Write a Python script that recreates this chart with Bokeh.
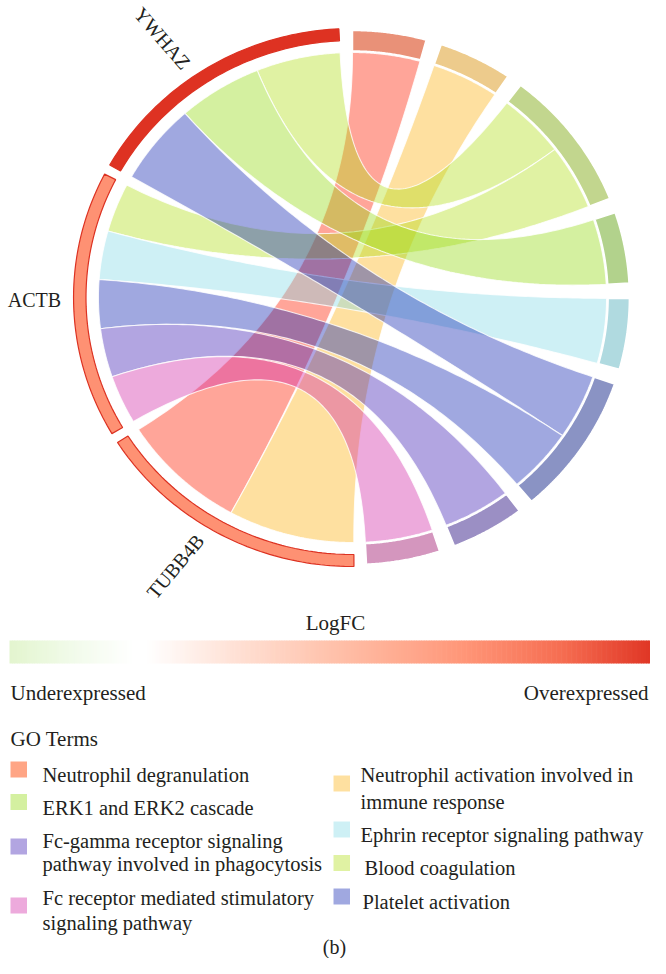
import numpy as np
from bokeh.plotting import figure
from bokeh.models import Range1d
from bokeh.embed import file_html
from bokeh.resources import INLINE
from bokeh.core.properties import value

# ---------------- data ----------------
genes = ["YWHAZ", "ACTB", "TUBB4B"]
gene_logfc = [2.0, 1.3, 1.3]
logfc_range = [-0.5, 2.0]

# GO terms in their order round the circle (clockwise from the top)
terms = [
    "Neutrophil degranulation",
    "Neutrophil activation involved in immune response",
    "Blood coagulation",
    "ERK1 and ERK2 cascade",
    "Ephrin receptor signaling pathway",
    "Platelet activation",
    "Fc-gamma receptor signaling pathway involved in phagocytosis",
    "Fc receptor mediated stimulatory signaling pathway",
]
# gene -> GO term memberships
ywhaz_terms = ["Blood coagulation", "ERK1 and ERK2 cascade", "Platelet activation"]
actb_terms = ["Blood coagulation", "Ephrin receptor signaling pathway", "Platelet activation",
              "Fc-gamma receptor signaling pathway involved in phagocytosis",
              "Fc receptor mediated stimulatory signaling pathway"]
tubb4b_terms = ["Neutrophil degranulation", "Neutrophil activation involved in immune response"]
gene_terms = [ywhaz_terms, actb_terms, tubb4b_terms]

# legend order and line breaks
legend_terms = [
    "Neutrophil degranulation", "ERK1 and ERK2 cascade",
    "Fc-gamma receptor signaling pathway involved in phagocytosis",
    "Fc receptor mediated stimulatory signaling pathway",
    "Neutrophil activation involved in immune response",
    "Ephrin receptor signaling pathway", "Blood coagulation", "Platelet activation",
]
legend_lines = [
    ["Neutrophil degranulation"], ["ERK1 and ERK2 cascade"],
    ["Fc-gamma receptor signaling", "pathway involved in phagocytosis"],
    ["Fc receptor mediated stimulatory", "signaling pathway"],
    ["Neutrophil activation involved in", "immune response"],
    ["Ephrin receptor signaling pathway"], ["Blood coagulation"], ["Platelet activation"],
]

# ---------------- style ----------------
term_fill = {
    "Neutrophil degranulation": (255, 165, 133),
    "Neutrophil activation involved in immune response": (254, 224, 160),
    "Blood coagulation": (224, 242, 163),
    "ERK1 and ERK2 cascade": (212, 240, 160),
    "Ephrin receptor signaling pathway": (206, 240, 245),
    "Platelet activation": (160, 168, 224),
    "Fc-gamma receptor signaling pathway involved in phagocytosis": (178, 165, 225),
    "Fc receptor mediated stimulatory signaling pathway": (237, 170, 220),
}
term_ring = {
    "Neutrophil degranulation": "#e99178",
    "Neutrophil activation involved in immune response": "#edcb8c",
    "Blood coagulation": "#c2d68e",
    "ERK1 and ERK2 cascade": "#b2d28c",
    "Ephrin receptor signaling pathway": "#b0dae0",
    "Platelet activation": "#8a93c4",
    "Fc-gamma receptor signaling pathway involved in phagocytosis": "#9b8fc4",
    "Fc receptor mediated stimulatory signaling pathway": "#d496be",
}
ALPHA = 0.4


def hexc(rgb):
    return "#%02x%02x%02x" % tuple(int(round(max(0, min(255, c)))) for c in rgb)


def base_color(shown):
    return hexc([(c - (1 - ALPHA) * 255) / ALPHA for c in shown])


cmap_stops = [(0.00, (227, 245, 207)), (0.10, (242, 251, 235)), (0.19, (255, 255, 255)),
              (0.21, (255, 255, 255)), (0.35, (255, 224, 212)), (0.50, (255, 193, 170)),
              (0.70, (255, 150, 120)), (0.85, (246, 110, 82)), (1.00, (222, 50, 34))]


def cmap(f):
    f = min(max(f, 0.0), 1.0)
    for (f0, c0), (f1, c1) in zip(cmap_stops[:-1], cmap_stops[1:]):
        if f0 <= f <= f1:
            t = 0 if f1 == f0 else (f - f0) / (f1 - f0)
            return hexc([a + (b - a) * t for a, b in zip(c0, c1)])
    return hexc(cmap_stops[-1][1])


def frac(v):
    return (v - logfc_range[0]) / (logfc_range[1] - logfc_range[0])


# geometry (reference pixel units, y pointing up)
CX, CY, XS = 360.0, -305.0, 1.037
R_RIB = 245
R_TERM_IN, R_TERM_OUT = 246.5, 267
R_GENE_IN, R_GENE_OUT = 257, 269
TERM_START, TERM_UNIT, TERM_GAP = 90.0, 15.4, 3.3
GENE_START, GENE_SPAN, GENE_GAP = 92.8, 57.7, 2.2
TXT = "#231f20"
FONT = value("Liberation Serif")


def pt(a, r):
    t = np.radians(a)
    return CX + r * np.cos(t) * XS, CY + r * np.sin(t)


def arc(a0, a1, r, n=60):
    t = np.radians(np.linspace(a0, a1, n))
    return list(CX + r * np.cos(t) * XS), list(CY + r * np.sin(t))


def bez(a0, a1, r, n=90):
    x0, y0 = pt(a0, r)
    x2, y2 = pt(a1, r)
    t = np.linspace(0, 1, n)
    x = (1 - t) ** 2 * x0 + 2 * t * (1 - t) * CX + t ** 2 * x2
    y = (1 - t) ** 2 * y0 + 2 * t * (1 - t) * CY + t ** 2 * y2
    return list(x), list(y)


def ring(a0, a1, r_in, r_out):
    xo, yo = arc(a0, a1, r_out)
    xi, yi = arc(a1, a0, r_in)
    return xo + xi, yo + yi


# term layout (clockwise)
term_count = [sum(t in gt for gt in gene_terms) for t in terms]
term_hi = {}
a = TERM_START
for t, c in zip(terms, term_count):
    term_hi[t] = a
    a = a - c * TERM_UNIT - TERM_GAP

# ---------------- figure ----------------
p = figure(width=650, height=958, x_range=Range1d(8, 658), y_range=Range1d(-966, -8),
           output_backend="svg", toolbar_location=None, x_axis_type=None, y_axis_type=None,
           min_border=0)
p.grid.visible = False
p.outline_line_color = None

# ribbons
ribbons = []
term_used = {t: 0 for t in terms}
for gi, (g, gts) in enumerate(zip(genes, gene_terms)):
    g_lo = GENE_START + gi * (GENE_SPAN + GENE_GAP)
    w = GENE_SPAN / len(gts)
    for j, t in enumerate(gts):
        s_lo, s_hi = g_lo + j * w, g_lo + (j + 1) * w
        k = term_used[t]
        term_used[t] += 1
        t_hi = term_hi[t] - k * TERM_UNIT
        t_lo = t_hi - TERM_UNIT
        x1, y1 = arc(s_lo, s_hi, R_RIB)
        x2, y2 = bez(s_hi, t_lo, R_RIB)
        x3, y3 = arc(t_lo, t_hi, R_RIB)
        x4, y4 = bez(t_hi, s_lo, R_RIB)
        ribbons.append((terms.index(t), x1 + x2 + x3 + x4, y1 + y2 + y3 + y4,
                        base_color(term_fill[t])))
ribbons.sort(key=lambda r: r[0])
p.patches([r[1] for r in ribbons], [r[2] for r in ribbons],
          fill_color=[r[3] for r in ribbons], fill_alpha=ALPHA, line_color="white",
          line_width=1.1, line_alpha=0.8)

# term rings
tx, ty, tc = [], [], []
for t, c in zip(terms, term_count):
    x, y = ring(term_hi[t] - c * TERM_UNIT, term_hi[t], R_TERM_IN, R_TERM_OUT)
    tx.append(x); ty.append(y); tc.append(term_ring[t])
p.patches(tx, ty, fill_color=tc, line_color="white", line_width=1.5)

# gene rings
gx, gy, gc = [], [], []
for gi, v in enumerate(gene_logfc):
    lo = GENE_START + gi * (GENE_SPAN + GENE_GAP)
    x, y = ring(lo, lo + GENE_SPAN, R_GENE_IN, R_GENE_OUT)
    gx.append(x); gy.append(y); gc.append(cmap(frac(v)))
p.patches(gx, gy, fill_color=gc, line_color="#dc3222", line_width=1.2)

# gene labels
label_shift = [3.0, -1.0, -3.0]
label_rot = [-49.0, 0.0, 50.0]
lx, ly = [], []
for gi in range(len(genes)):
    mid = GENE_START + gi * (GENE_SPAN + GENE_GAP) + GENE_SPAN / 2 + label_shift[gi]
    x, y = pt(mid, 281)
    lx.append(x); ly.append(y)
p.text(x=lx, y=ly, text=genes, angle=label_rot, angle_units="deg", text_align="right",
       text_baseline="middle", text_font=FONT, text_font_size="20px", text_color=TXT)

# colour bar
n = 260
edges = np.linspace(17, 666, n + 1)
fr = np.linspace(0, 1, n)
p.quad(left=edges[:-1], right=edges[1:] + 0.6, top=-648, bottom=-671,
       fill_color=[cmap(f) for f in fr], line_color=None)
p.text(x=[343], y=[-630], text=["LogFC"], text_align="center", text_baseline="alphabetic",
       text_font=FONT, text_font_size="21px", text_color=TXT)
p.text(x=[18, 656], y=[-700, -700], text=["Underexpressed", "Overexpressed"],
       text_align=["left", "right"], text_baseline="alphabetic", text_font=FONT,
       text_font_size="21px", text_color=TXT)

# legend
p.text(x=[18], y=[-746], text=["GO Terms"], text_baseline="alphabetic", text_font=FONT,
       text_font_size="21px", text_color=TXT)
sw_x = [18, 18, 18, 18, 341, 341, 341, 341]
sw_y = [777, 809.5, 854, 913, 791, 837, 870.5, 904]
tx_x = [50, 50, 50, 50, 368, 368, 372, 370]
tx_base = [[782], [815], [848, 871.5], [905.5, 930], [782.5, 809.5], [842], [875.5], [909]]
p.quad(left=sw_x, right=[x + 16.5 for x in sw_x], top=[-(y - 8) for y in sw_y],
       bottom=[-(y + 8) for y in sw_y],
       fill_color=[hexc(term_fill[t]) for t in legend_terms], line_color=None)
lt_x, lt_y, lt_t = [], [], []
for i, lines in enumerate(legend_lines):
    for ln, b in zip(lines, tx_base[i]):
        lt_x.append(tx_x[i]); lt_y.append(-b); lt_t.append(ln)
p.text(x=lt_x, y=lt_y, text=lt_t, text_baseline="alphabetic", text_font=FONT,
       text_font_size="20.5px", text_color=TXT)

p.text(x=[342], y=[-954], text=["(b)"], text_align="center", text_baseline="alphabetic",
       text_font=FONT, text_font_size="20px", text_color=TXT)

open("out.html", "w").write(file_html(p, INLINE))
